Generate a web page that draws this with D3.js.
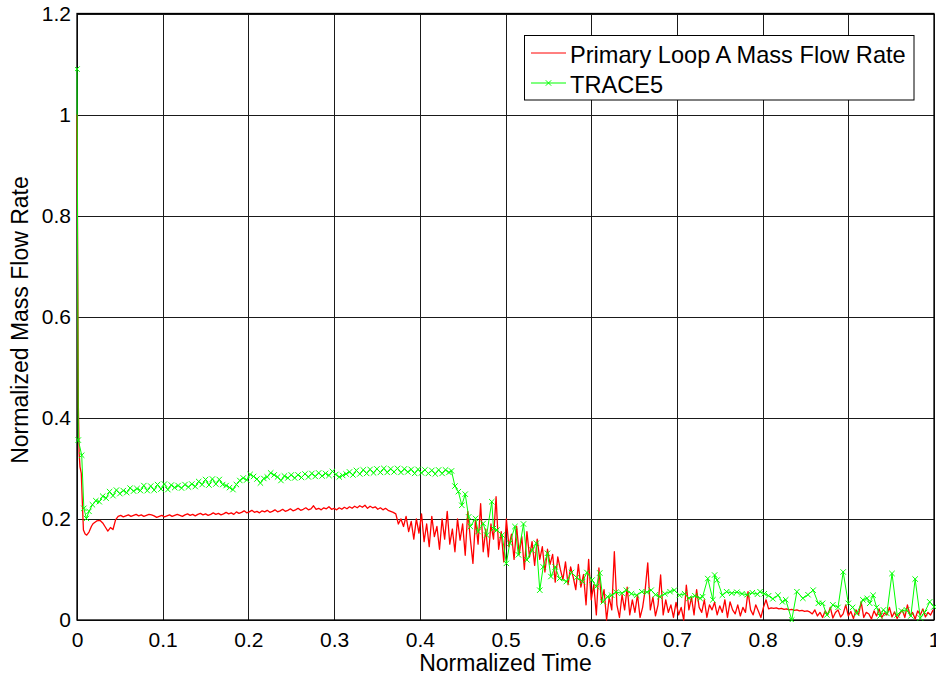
<!DOCTYPE html>
<html>
<head>
<meta charset="utf-8">
<script src="https://cdn.jsdelivr.net/npm/d3@7/dist/d3.min.js"></script>
<style>
  html, body { margin: 0; padding: 0; background: #fff; }
  svg { display: block; font-family: "Liberation Sans", Arial, Helvetica, sans-serif; }
</style>
</head>
<body>
<svg id="chart" width="936" height="679"></svg>
<script>
// ---------------- DATA ----------------
const xTicks = [0, 0.1, 0.2, 0.3, 0.4, 0.5, 0.6, 0.7, 0.8, 0.9, 1];
const yTicks = [0, 0.2, 0.4, 0.6, 0.8, 1, 1.2];
const xTitle = "Normalized Time";
const yTitle = "Normalized Mass Flow Rate";
const seriesNames = ["Primary Loop A Mass Flow Rate", "TRACE5"];

// Red series: initial transient (time, value)
const redHead = [
  [0, 1.0], [0.0008, 0.7], [0.0016, 0.42], [0.0025, 0.33], [0.0035, 0.303],
  [0.005, 0.29], [0.0065, 0.22], [0.0075, 0.178], [0.0095, 0.17], [0.0113, 0.168],
  [0.014, 0.174], [0.017, 0.186], [0.019, 0.191], [0.023, 0.196], [0.027, 0.197]
];
// Red series: sampled every 0.003 starting at 0.030
const redStart = 0.030, redStep = 0.003;
const redValues = [
  .192,.184,.176,.183,.179,.198,.205,.207,.204,.206,
  .208,.205,.207,.209,.206,.208,.205,.207,.209,.208,
  .206,.203,.205,.207,.204,.206,.208,.205,.207,.209,
  .207,.205,.208,.21,.207,.209,.206,.209,.211,.208,
  .21,.207,.209,.212,.209,.211,.208,.21,.213,.21,
  .212,.209,.214,.211,.213,.216,.212,.214,.217,.213,
  .215,.212,.216,.214,.217,.213,.215,.218,.214,.216,
  .219,.215,.217,.22,.216,.218,.221,.217,.219,.222,
  .218,.22,.226,.219,.221,.218,.222,.22,.224,.219,
  .221,.218,.222,.219,.223,.22,.224,.221,.225,.222,
  .226,.223,.227,.221,.225,.222,.224,.219,.222,.218,
  .221,.217,.215,.213,.21,.19,.2,.185,.205,.175,
  .195,.16,.2,.172,.21,.155,.19,.145,.205,.165,
  .185,.14,.2,.16,.215,.15,.18,.135,.2,.158,
  .19,.128,.215,.16,.112,.2,.15,.23,.135,.18,
  .125,.19,.16,.244,.14,.175,.115,.2,.145,.17,
  .12,.185,.13,.165,.1,.175,.125,.155,.108,.16,
  .12,.145,.095,.14,.11,.13,.075,.125,.1,.08,
  .115,.07,.105,.085,.06,.11,.065,.09,.03,.12,
  .04,.07,.01,.103,.035,.06,.0,.045,.02,.135,
  .03,.005,.05,.02,.065,.01,.04,.015,.05,.005,
  .025,.06,.113,.02,.045,.008,.03,.089,.01,.04,
  .015,.03,.005,.035,.01,.025,.0,.069,.02,.045,
  .01,.06,.025,.015,.04,.005,.03,.02,.035,.01,
  .028,.015,.04,.005,.036,.02,.012,.03,.008,.025,
  .015,.056,.02,.01,.03,.018,.005,.025,.04,.022,
  .024,.023,.024,.022,.023,.021,.022,.02,.021,.019,
  .02,.018,.019,.017,.018,.016,.012,.02,.008,.015,
  .005,.018,.01,.025,.004,.015,.02,.006,.012,.03,
  .008,.017,.003,.02,.01,.036,.005,.015,.012,.002,
  .018,.008,.022,.004,.014,.01,.025,.006,.016,.003,
  .012,.02,.005,.03,.009,.015,.002,.018,.01,.022,
  .006,.015,.01,.02
];

// Green series (TRACE5): initial transient
const greenHead = [
  [0, 1.09], [0.0015, 0.356], [0.0055, 0.326], [0.008, 0.221], [0.011, 0.201]
];
// Green series: sampled every 0.004 starting at 0.014
const greenStart = 0.014, greenStep = 0.004;
const greenValues = [
  .215,.228,.236,.234,.245,.241,.254,.246,.257,.25,
  .256,.252,.261,.255,.26,.256,.266,.256,.265,.257,
  .268,.259,.269,.258,.267,.262,.266,.261,.268,.263,
  .269,.264,.274,.268,.278,.267,.279,.269,.278,.268,
  .266,.262,.258,.268,.276,.281,.277,.288,.284,.279,
  .271,.28,.283,.291,.287,.283,.276,.285,.281,.287,
  .281,.287,.282,.289,.283,.29,.284,.291,.285,.29,
  .286,.294,.288,.283,.286,.289,.293,.287,.296,.289,
  .297,.29,.298,.291,.299,.292,.3,.292,.299,.293,
  .3,.292,.299,.293,.298,.29,.298,.291,.297,.29,
  .296,.289,.297,.29,.297,.292
];
// Green series: after the drop (time, value)
const greenTail = [
  [.437,.295],[.441,.265],[.445,.254],[.449,.227],[.453,.249],[.457,.204],[.459,.185],
  [.465,.201],[.468,.175],[.474,.191],[.478,.168],[.484,.234],[.486,.181],[.490,.178],
  [.496,.168],[.501,.112],[.505,.152],[.511,.185],[.515,.129],[.521,.19],[.525,.119],
  [.531,.138],[.536,.152],[.540,.059],[.544,.105],[.549,.132],[.553,.086],[.558,.105],
  [.563,.082],[.571,.076],[.577,.094],[.583,.084],[.590,.076],[.595,.094],[.601,.079],
  [.606,.066],[.610,.093],[.614,.036],[.619,.046],[.624,.049],[.629,.055],[.636,.053],
  [.641,.059],[.647,.052],[.653,.049],[.659,.056],[.665,.055],[.670,.059],[.675,.05],
  [.680,.046],[.686,.052],[.692,.056],[.697,.059],[.703,.049],[.709,.052],[.714,.043],
  [.721,.048],[.727,.043],[.730,.046],[.736,.082],[.742,.040],[.744,.089],[.747,.079],
  [.753,.049],[.758,.056],[.764,.053],[.770,.055],[.776,.052],[.782,.05],[.788,.054],
  [.794,.051],[.797,.056],[.802,.052],[.807,.048],[.812,.042],[.818,.049],[.823,.036],
  [.827,.040],[.834,0.0],[.840,.056],[.847,.043],[.853,.05],[.859,.059],[.865,.033],
  [.870,.033],[.875,.01],[.882,.03],[.888,.025],[.894,.095],[.9,.033],[.905,.025],
  [.91,.013],[.917,.04],[.922,.043],[.925,.033],[.929,.049],[.933,.025],[.937,.008],
  [.941,.02],[.945,.013],[.951,.092],[.957,.01],[.962,.018],[.968,.02],[.973,.008],
  [.978,.081],[.984,.004],[.989,.015],[.995,.036],[1.0,.026]
];

// ---------------- BUILD ----------------
const redData = redHead.map(d => ({t: d[0], v: d[1]}))
  .concat(redValues.map((v, i) => ({t: redStart + i * redStep, v})));
const greenData = greenHead.map(d => ({t: d[0], v: d[1]}))
  .concat(greenValues.map((v, i) => ({t: greenStart + i * greenStep, v})))
  .concat(greenTail.map(d => ({t: d[0], v: d[1]})));

const svg = d3.select("#chart");
const L = 77, R = 934, T = 13.5, B = 620;
const x = d3.scaleLinear().domain([0, 1]).range([L, R]);
const y = d3.scaleLinear().domain([0, 1.2]).range([B, T]);
const fmt = d => String(+(+d).toFixed(1));

// grid
const grid = svg.append("g").attr("class", "grid");
grid.append("g").attr("transform", `translate(0,${B})`)
  .call(d3.axisBottom(x).tickValues(xTicks).tickSize(-(B - T)).tickFormat(""))
  .call(g => g.select(".domain").remove())
  .call(g => g.selectAll("line").attr("stroke", "#1a1a1a").attr("stroke-width", 1).attr("shape-rendering", "crispEdges"));
grid.append("g").attr("transform", `translate(${L},0)`)
  .call(d3.axisLeft(y).tickValues(yTicks).tickSize(-(R - L)).tickFormat(""))
  .call(g => g.select(".domain").remove())
  .call(g => g.selectAll("line").attr("stroke", "#1a1a1a").attr("stroke-width", 1).attr("shape-rendering", "crispEdges"));

// frame (drawn under the data, as in the reference)
svg.append("rect").attr("x", L).attr("y", T).attr("width", R - L).attr("height", B - T)
  .attr("fill", "none").attr("stroke", "#000").attr("stroke-width", 1.3);

// clip
svg.append("defs").append("clipPath").attr("id", "clip")
  .append("rect").attr("x", L - 2).attr("y", T - 6).attr("width", R - L + 6).attr("height", B - T + 8);

const plot = svg.append("g").attr("clip-path", "url(#clip)");
const line = d3.line().x(d => x(d.t)).y(d => y(d.v));

plot.append("path").datum(redData)
  .attr("fill", "none").attr("stroke", "#ff0000").attr("stroke-width", 1.3)
  .attr("stroke-linejoin", "round").attr("d", line);

plot.append("path").datum(greenData)
  .attr("fill", "none").attr("stroke", "#00ff00").attr("stroke-width", 1)
  .attr("stroke-linejoin", "round").attr("d", line);

const ms = 2.7;
const xMark = `M${-ms},${-ms}L${ms},${ms}M${-ms},${ms}L${ms},${-ms}`;
plot.append("g").selectAll("path").data(greenData).join("path")
  .attr("transform", d => `translate(${x(d.t)},${y(d.v)})`)
  .attr("d", xMark).attr("fill", "none").attr("stroke", "#00ff00").attr("stroke-width", 1);

// tick labels
svg.append("g").attr("transform", `translate(0,${B})`)
  .call(d3.axisBottom(x).tickValues(xTicks).tickSize(0).tickPadding(12).tickFormat(fmt))
  .call(g => g.select(".domain").remove())
  .call(g => g.selectAll("text").attr("font-size", 21).attr("fill", "#000")
        .attr("font-family", "Liberation Sans, Arial, sans-serif"));
svg.append("g").attr("transform", `translate(${L},0)`)
  .call(d3.axisLeft(y).tickValues(yTicks).tickSize(0).tickPadding(6).tickFormat(fmt))
  .call(g => g.select(".domain").remove())
  .call(g => g.selectAll("text").attr("font-size", 21).attr("fill", "#000")
        .attr("font-family", "Liberation Sans, Arial, sans-serif"));

// axis titles
svg.append("text").attr("x", (L + R) / 2).attr("y", 671).attr("text-anchor", "middle")
  .attr("font-size", 23).attr("fill", "#000").text(xTitle);
svg.append("text").attr("transform", `translate(28,320) rotate(-90)`)
  .attr("text-anchor", "middle").attr("font-size", 23).attr("fill", "#000").text(yTitle);

// legend
const lg = svg.append("g");
lg.append("rect").attr("x", 524.5).attr("y", 35.5).attr("width", 389.5).attr("height", 64.5)
  .attr("fill", "#fff").attr("stroke", "#000").attr("stroke-width", 1);
const rows = [
  {name: seriesNames[0], color: "#ff0000", marker: false, y: 53},
  {name: seriesNames[1], color: "#00ff00", marker: true, y: 83}
];
rows.forEach(r => {
  lg.append("line").attr("x1", 531).attr("x2", 566).attr("y1", r.y).attr("y2", r.y)
    .attr("stroke", r.color).attr("stroke-width", 1);
  if (r.marker) {
    lg.append("path").attr("transform", `translate(548.5,${r.y})`).attr("d", xMark)
      .attr("fill", "none").attr("stroke", r.color).attr("stroke-width", 1);
  }
  lg.append("text").attr("x", 570).attr("y", r.y + 9.5).attr("font-size", 23.6)
    .attr("fill", "#000").text(r.name);
});
</script>
</body>
</html>
